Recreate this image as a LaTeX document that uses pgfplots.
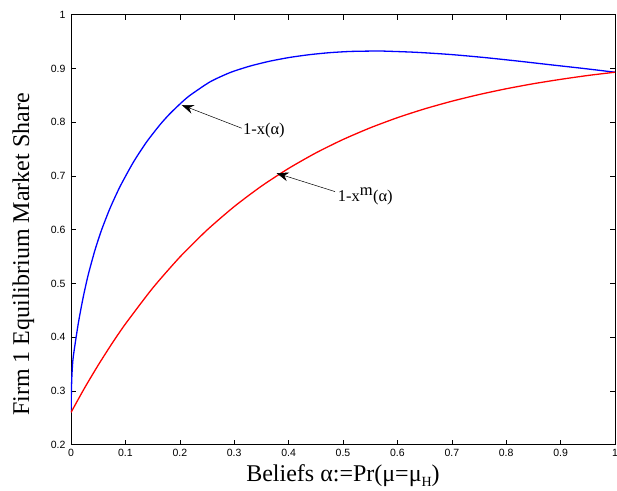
\documentclass[border=0pt]{standalone}
\usepackage{pgfplots}
\pgfplotsset{compat=1.18}
\usepackage{fontspec}
\setmainfont{Liberation Serif}
\newfontfamily\ticksans{Liberation Sans}
\usetikzlibrary{arrows.meta,calc}

\begin{document}
\begin{tikzpicture}
\begin{axis}[
  scale only axis,
  width=544pt, height=430pt,
  xmin=0, xmax=1, ymin=0.2, ymax=1,
  xtick={0,0.1,...,1.0001},
  ytick={0.2,0.3,...,1.0001},
  tick align=inside,
  major tick length=5pt,
  axis line style={line width=0.8pt},
  tick style={line width=0.6pt, black},
  /pgf/number format/assume math mode=true,
  /pgf/number format/fixed,
  /pgf/number format/precision=1,
  ticklabel style={font=\ticksans\fontsize{10.5}{12}\selectfont},
  xticklabel style={yshift=-1pt},
  yticklabel style={xshift=-2pt},
  xlabel={Beliefs α:=Pr(μ=μ\raisebox{-5pt}{\fontsize{14}{16}\selectfont H})},
  ylabel={Firm 1 Equilibrium Market Share},
  label style={font=\fontsize{24}{28}\selectfont},
  xlabel style={at={(axis description cs:0.5,-0.086)}, anchor=base},
  ylabel style={at={(axis description cs:-0.0772,0.442)}, anchor=base},
]
% 1 - x(alpha)
\addplot[blue, line width=1.3pt, smooth, tension=0.4] coordinates {
  (0,0.26) (0.001,0.31) (0.002,0.335) (0.0042,0.364) (0.0134,0.4256)
  (0.0226,0.4753) (0.0318,0.5167) (0.044,0.5618) (0.056,0.599) (0.0717,0.6398)
  (0.09,0.680) (0.1146,0.7255) (0.139,0.7633) (0.164,0.7958) (0.182,0.816)
  (0.2035,0.8369) (0.2188,0.850) (0.2555,0.875) (0.2923,0.8923) (0.329,0.9044)
  (0.3658,0.9136) (0.4026,0.9206) (0.439,0.9257) (0.476,0.9294) (0.513,0.9316)
  (0.55,0.9323) (0.574,0.9323) (0.635,0.930) (0.697,0.926) (0.758,0.9205)
  (0.819,0.914) (0.88,0.907) (0.942,0.900) (1,0.893)
};
% 1 - x^m(alpha)
\addplot[red, line width=1.3pt, smooth, tension=0.4] coordinates {
  (0,0.26) (0.025,0.3056) (0.05,0.348) (0.075,0.3877) (0.1,0.4246)
  (0.15,0.4912) (0.2,0.549) (0.25,0.5993) (0.3,0.643) (0.35,0.681)
  (0.4,0.714) (0.45,0.7428) (0.5,0.7678) (0.55,0.7895) (0.6,0.8084)
  (0.65,0.8248) (0.7,0.839) (0.75,0.8514) (0.8,0.8622) (0.85,0.8716)
  (0.9,0.8797) (0.95,0.8869) (1,0.893)
};
% annotations
\draw[-{Stealth[length=12pt,width=9pt,inset=4pt]}, line width=0.5pt]
  (axis cs:0.3138,0.7888) -- (axis cs:0.2035,0.832);
\draw[-{Stealth[length=12pt,width=9pt,inset=4pt]}, line width=0.5pt]
  (axis cs:0.4853,0.6709) -- (axis cs:0.378,0.7051);
\node[anchor=base west, inner sep=0pt, font=\fontsize{16.5}{20}\selectfont]
  at (axis cs:0.316,0.7763) {1-x(α)};
\node[anchor=base west, inner sep=0pt, font=\fontsize{16.5}{20}\selectfont]
  at (axis cs:0.490,0.6523) {1-x$^{\textrm{m}}$(α)};
\end{axis}
\pgfresetboundingbox
\path ($(current axis.south west)+(-71pt,-46pt)$) rectangle ($(current axis.north east)+(2pt,14.7pt)$);
\end{tikzpicture}
\end{document}
